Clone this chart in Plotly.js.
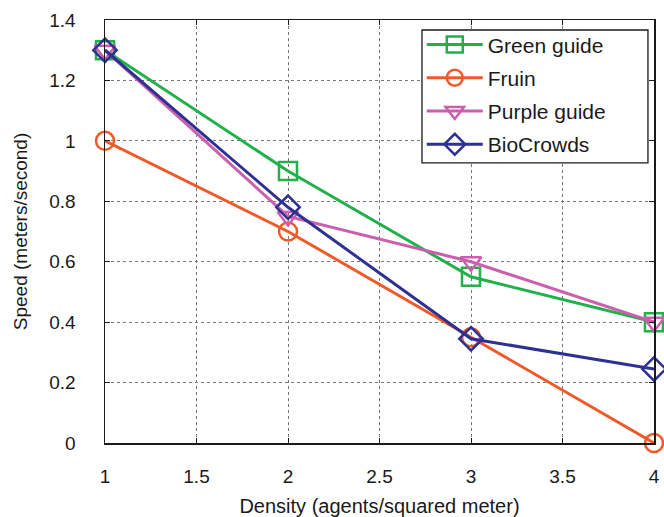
<!DOCTYPE html>
<html>
<head>
<meta charset="utf-8">
<script src="https://cdn.plot.ly/plotly-3.0.1.min.js"></script>
<style>body{margin:0;padding:0;background:#fff;}#chart{width:664px;height:517px;}</style>
</head>
<body>
<div id="chart"></div>
<script>
const density = [1, 2, 3, 4];
const greenGuide = [1.3, 0.9, 0.55, 0.4];
const fruin = [1.0, 0.7, 0.35, 0.0];
const purpleGuide = [1.3, 0.75, 0.6, 0.4];
const bioCrowds = [1.3, 0.78, 0.345, 0.245];
const xTicks = [1, 1.5, 2, 2.5, 3, 3.5, 4];
const xTickLabels = ['1', '1.5', '2', '2.5', '3', '3.5', '4'];
const yTicks = [0, 0.2, 0.4, 0.6, 0.8, 1.0, 1.2, 1.4];
const yTickLabels = ['0', '0.2', '0.4', '0.6', '0.8', '1', '1.2', '1.4'];

function series(name, y, color, symbol, group) {
  return {
    x: density, y: y, name: name, type: 'scatter', mode: 'lines+markers',
    legendgroup: group,
    line: {color: color, width: 3},
    marker: {symbol: symbol, size: 18, color: color, line: {color: color, width: 2.5}},
    cliponaxis: false
  };
}

const data = [
  series('Green guide', greenGuide, '#22b04b', 'square-open', 'g1'),
  series('Fruin', fruin, '#f05a28', 'circle-open', 'g2'),
  series('Purple guide', purpleGuide, '#cc5fad', 'triangle-down-open', 'g3'),
  series('BioCrowds', bioCrowds, '#2e3192', 'diamond-open', 'g4')
];

const fam = 'Liberation Sans, Arial, sans-serif';
const tickFont = {family: fam, size: 19, color: '#1a1a1a'};

const layout = {
  width: 664, height: 517,
  margin: {l: 105, r: 10, t: 20, b: 74},
  paper_bgcolor: '#fff', plot_bgcolor: '#fff',
  font: tickFont,
  showlegend: true,
  legend: {
    x: 0.577, y: 0.990, xanchor: 'left', yanchor: 'top',
    borderwidth: 0, bgcolor: 'rgba(0,0,0,0)',
    font: {family: fam, size: 21, color: '#1a1a1a'},
    tracegroupgap: 3, itemwidth: 56, traceorder: 'grouped'
  },
  shapes: [{
    type: 'rect', xref: 'paper', yref: 'paper', layer: 'above',
    x0: 0.5774, x1: 0.989, y0: 0.662, y1: 0.9764,
    line: {color: '#1a1a1a', width: 1.3}, fillcolor: '#fff'
  }],
  xaxis: {
    range: [1, 4], tickvals: xTicks, ticktext: xTickLabels,
    showline: true, linecolor: '#1a1a1a', linewidth: 1.5, mirror: 'allticks',
    ticks: 'inside', ticklen: 5, tickcolor: '#1a1a1a', tickwidth: 1,
    showgrid: true, gridcolor: '#777', griddash: 'dot', gridwidth: 1,
    zeroline: false, ticklabelstandoff: 16, tickfont: tickFont,
    title: {text: 'Density (agents/squared meter)', font: {family: fam, size: 20, color: '#1a1a1a'}, standoff: 14}
  },
  yaxis: {
    range: [0, 1.4], tickvals: yTicks, ticktext: yTickLabels,
    showline: true, linecolor: '#1a1a1a', linewidth: 1.5, mirror: 'allticks',
    ticks: 'inside', ticklen: 5, tickcolor: '#1a1a1a', tickwidth: 1,
    showgrid: true, gridcolor: '#777', griddash: 'dot', gridwidth: 1,
    zeroline: false, ticklabelstandoff: 24, tickfont: tickFont,
    title: {text: 'Speed (meters/second)', font: {family: fam, size: 19, color: '#1a1a1a'}, standoff: 16}
  }
};

Plotly.newPlot('chart', data, layout, {displayModeBar: false, staticPlot: true});
</script>
</body>
</html>
